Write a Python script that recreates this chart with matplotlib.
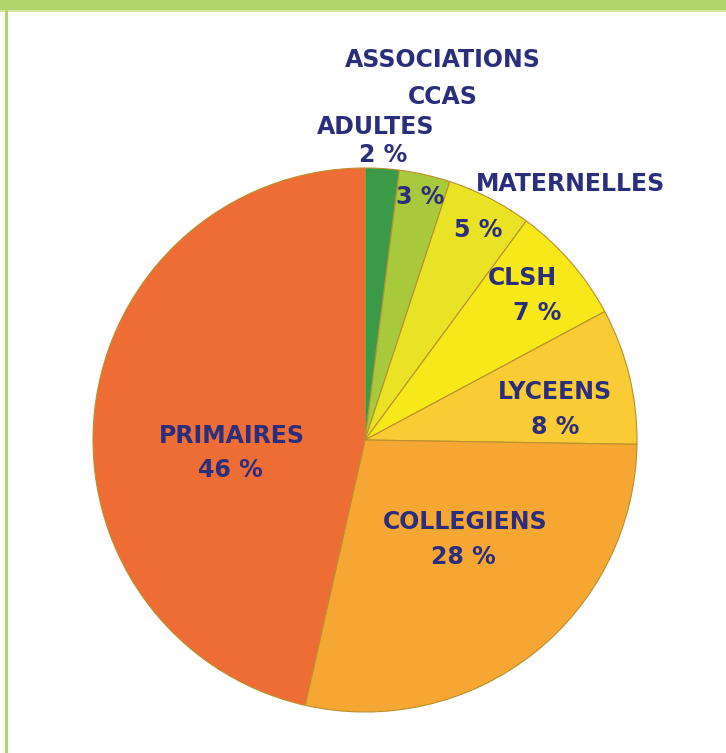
import matplotlib.pyplot as plt
from matplotlib.patches import Rectangle

# Data
categories = ['ADULTES', 'ASSOCIATIONS\nCCAS', 'MATERNELLES', 'CLSH', 'LYCEENS', 'COLLEGIENS', 'PRIMAIRES']
values = [2, 3, 5, 7, 8, 28, 46]
pct_labels = ['2 %', '3 %', '5 %', '7 %', '8 %', '28 %', '46 %']
colors = ['#3b9a48', '#a9c93c', '#e9e225', '#f7e81a', '#f9cb34', '#f6a733', '#ee6d35']

W, H = 726, 753
TXT = '#2b2e7c'

fig = plt.figure(figsize=(W / 100, H / 100), dpi=100)
ax = fig.add_axes([0, 0, 1, 1])
ax.set_xlim(0, W)
ax.set_ylim(0, H)
ax.set_aspect('equal')
ax.axis('off')

# frame: green band on top, thin green line on the left
ax.add_patch(Rectangle((0, H - 10), W, 10, color='#b2d56a', lw=0))
ax.add_patch(Rectangle((0, H - 12), W, 2, color='#d3e8a4', lw=0))
ax.add_patch(Rectangle((5, 0), 3, H - 10, color='#b2d56a', lw=0))

ax.pie(values, colors=colors, startangle=90, counterclock=False,
       center=(365, H - 440), radius=272, frame=True,
       wedgeprops=dict(edgecolor='#b8902e', linewidth=0.8))
ax.set_xlim(0, W)
ax.set_ylim(0, H)
ax.axis('off')

font = dict(family=['Liberation Sans Narrow', 'DejaVu Sans'], fontweight='bold',
            color=TXT, ha='center', va='center', fontsize=17)

# label placement (pixel coords from top)
name_pos = {
    'ADULTES': (376, 127),
    'MATERNELLES': (570, 184),
    'CLSH': (522, 278),
    'LYCEENS': (555, 392),
    'COLLEGIENS': (465, 522),
    'PRIMAIRES': (232, 436),
}
pct_pos = [(383, 155), (420, 197), (478, 230), (537, 313), (555, 427), (463, 557), (230, 470)]

for cat, p, (px, py) in zip(categories, pct_labels, pct_pos):
    if cat in name_pos:
        nx, ny = name_pos[cat]
        ax.text(nx, H - ny, cat, **font)
    ax.text(px, H - py, p, **font)

# the two-line name for the 3 % slice
ax.text(443, H - 60, categories[1].split('\n')[0], **font)
ax.text(443, H - 97, categories[1].split('\n')[1], **font)

fig.savefig('out.png', dpi=100)
